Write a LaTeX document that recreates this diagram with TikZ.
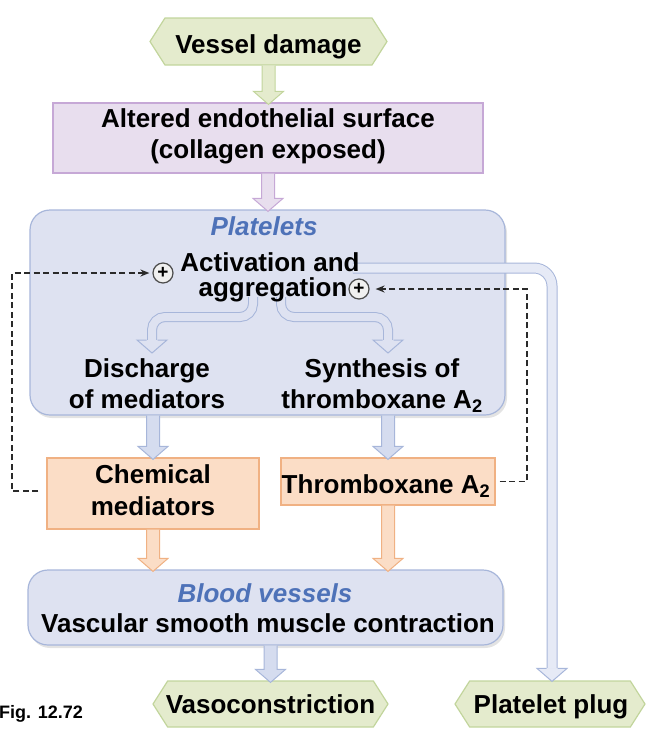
\documentclass[tikz,border=0pt]{standalone}
\usepackage{fontspec}
\setmainfont{Liberation Sans}
\usetikzlibrary{shapes.symbols,calc,arrows.meta,shadows}
\definecolor{grfill}{HTML}{E4EBCD}
\definecolor{grdraw}{HTML}{C2D59C}
\definecolor{pufill}{HTML}{E8DEEE}
\definecolor{pudraw}{HTML}{C6A8D6}
\definecolor{blbox}{HTML}{DEE2F1}
\definecolor{bldraw}{HTML}{A7B6DA}
\definecolor{blfill}{HTML}{D5DCEF}
\definecolor{bllight}{HTML}{E6EAF6}
\definecolor{bltext}{HTML}{4E72B8}
\definecolor{orfill}{HTML}{FBDDC6}
\definecolor{ordraw}{HTML}{F0B183}
\definecolor{dshc}{HTML}{2A2A2A}
\pgfdeclarelayer{bg}
\pgfdeclarelayer{mid}
\pgfsetlayers{bg,mid,main}
\newcommand\myarrow[4]{%
  \path #3 coordinate (ATop);
  \path ($#4+(0,2)$) coordinate (ATip);
  \fill[#1] ($(ATop)+(-6.5,0)$) -- ($(ATip)+(-6.5,-13)$) -- ($(ATip)+(-15,-13)$) -- (ATip) -- ($(ATip)+(15,-13)$) -- ($(ATip)+(6.5,-13)$) -- ($(ATop)+(6.5,0)$) -- cycle;
  \draw[#2,line width=1pt,line join=miter] ($(ATop)+(-6.5,0)$) -- ($(ATip)+(-6.5,-13)$) -- ($(ATip)+(-15,-13)$) -- (ATip) -- ($(ATip)+(15,-13)$) -- ($(ATip)+(6.5,-13)$) -- ($(ATop)+(6.5,0)$);
}
\newcommand\myhead[3]{%
  \path #3 coordinate (HTip);
  \fill[#1] ($(HTip)+(-15,-13)$) -- (HTip) -- ($(HTip)+(15,-13)$) -- cycle;
  \draw[#2,line width=1pt,line join=miter] ($(HTip)+(-5.5,-13)$) -- ($(HTip)+(-15,-13)$) -- (HTip) -- ($(HTip)+(15,-13)$) -- ($(HTip)+(5.5,-13)$);
}
\tikzset{
  txt/.style={font=\bfseries\fontsize{26}{30}\selectfont, text=black, inner sep=0pt},
  bluetxt/.style={font=\bfseries\itshape\fontsize{26}{30}\selectfont, text=bltext, inner sep=0pt},
  figtxt/.style={font=\bfseries\fontsize{18}{20}\selectfont, text=black, inner sep=0pt},
  hexv/.style={shape=signal, signal to=east and west, signal from=nowhere, signal pointer angle=115,
    fill=grfill, draw=grdraw, line width=1.2pt, inner sep=0pt},
  purpbox/.style={rectangle, fill=pufill, draw=pudraw, line width=1.2pt, inner sep=0pt},
  bluebox/.style={rectangle, rounded corners=20pt, fill=blbox, draw=bldraw, line width=1.2pt, inner sep=0pt,
    drop shadow={shadow xshift=2pt, shadow yshift=-3pt, opacity=0.22}},
  orbox/.style={rectangle, fill=orfill, draw=ordraw, line width=1.2pt, inner sep=0pt},
  plusc/.style={circle, fill=gray!12, draw=gray!60!black, line width=1.2pt, minimum size=20pt, inner sep=0pt,
    font=\bfseries\fontsize{19}{19}\selectfont},
  bandpp/.style={draw=bldraw, double=bllight, line width=1pt, double distance=9pt, rounded corners=18pt},
  bandc/.style={draw=bldraw, double=blbox, line width=1pt, double distance=8pt, rounded corners=13pt},
  dsh/.style={draw=dshc, line width=1.7pt, dash pattern=on 6pt off 3.5pt, -{Stealth[length=9pt,width=7pt]}},
}
\begin{document}
\begin{tikzpicture}[x=1pt,y=-1pt]
\useasboundingbox (0,0) rectangle (646,740);
\begin{pgfonlayer}{bg}
\node[hexv, minimum width=237pt, minimum height=47pt] (vd) at (268.5,41.5) {};
\node[purpbox, minimum width=430pt, minimum height=70pt] (alt) at (268,138) {};
\node[bluebox, minimum width=475pt, minimum height=205pt] (plt) at (267.5,312.5) {};
\node[orbox, minimum width=212pt, minimum height=71pt] (chem) at (153,493.5) {};
\node[orbox, minimum width=214pt, minimum height=47pt] (thx) at (388,481.5) {};
\node[bluebox, minimum width=475pt, minimum height=75pt] (bv) at (265.5,607.5) {};
\node[hexv, minimum width=235pt, minimum height=46pt] (vc) at (270.5,704) {};
\node[hexv, minimum width=190pt, minimum height=46pt] (pp) at (550,704) {};
\end{pgfonlayer}
% texts
\node[txt, anchor=base] (vdt) at (268.5,53) {Vessel damage};
\node[txt, anchor=base] (alt1) at (268,127) {Altered endothelial surface};
\node[txt, anchor=base] (alt2) at (268,158) {(collagen exposed)};
\node[bluetxt, anchor=base] (pltt) at (264,235) {Platelets};
\node[txt, anchor=base] (act1) at (270,271) {Activation and};
\node[txt, anchor=base] (act2) at (273,296) {aggregation};
\node[plusc] (p1) at (163,273) {+};
\node[plusc] (p2) at (359,289) {+};
\node[txt, anchor=base] (dis1) at (147,377) {Discharge};
\node[txt, anchor=base] (dis2) at (147,408) {of mediators};
\node[txt, anchor=base] (syn1) at (382,377) {Synthesis of};
\node[txt, anchor=base] (syn2) at (382,408) {thromboxane A\textsubscript{2}};
\node[txt, anchor=base] (chem1) at (153,483) {Chemical};
\node[txt, anchor=base] (chem2) at (153,515) {mediators};
\node[txt, anchor=base] (thxt) at (386,493) {Thromboxane A\textsubscript{2}};
\node[bluetxt, anchor=base] (bvt) at (265,602) {Blood vessels};
\node[txt, anchor=base] (bv2) at (268,632) {Vascular smooth muscle contraction};
\node[txt, anchor=base] (vct) at (270.5,713) {Vasoconstriction};
\node[txt, anchor=base] (ppt) at (551,713) {Platelet plug};
\node[figtxt, anchor=base east] (fig) at (83,718) {Fig. 12.72};
% connectors
\begin{pgfonlayer}{mid}
\myarrow{grfill}{grdraw}{(vd.south)}{(vd.south |- alt.north)}
\myarrow{pufill}{pudraw}{(alt.south)}{(alt.south |- plt.north)}
\myarrow{blfill}{bldraw}{(chem.north |- plt.south)}{(chem.north)}
\myarrow{blfill}{bldraw}{(thx.north |- plt.south)}{(thx.north)}
\myarrow{orfill}{ordraw}{(chem.south)}{(chem.south |- bv.north)}
\myarrow{orfill}{ordraw}{(thx.south)}{(thx.south |- bv.north)}
\myarrow{blfill}{bldraw}{(vc.north |- bv.south)}{(vc.north)}
% platelet plug band
\coordinate (ppS) at ($(act1.base east)+(-7,-3)$);
\draw[bandpp] (ppS) -| ($(pp.north)+(2,-12)$);
\myhead{bllight}{bldraw}{($(pp.north)+(2,1)$)}
% curved arrows
\coordinate (aggL) at ($(act2.base)+(-20,1)$);
\coordinate (aggR) at ($(act2.base)+(8,1)$);
\coordinate (tipL) at ($(dis1.base)+(5,-24)$);
\coordinate (tipR) at ($(syn1.base)+(6,-24)$);
\draw[bandc] (aggL) |- ($(tipL)+(0,-36)$) -- ($(tipL)+(0,-12.5)$);
\draw[bandc] (aggR) |- ($(tipR)+(0,-36)$) -- ($(tipR)+(0,-12.5)$);
\myhead{blbox}{bldraw}{(tipL)}
\myhead{blbox}{bldraw}{(tipR)}
% dashed feedback
\coordinate (dL) at ($(chem.west)+(-8,-2.5)$);
\coordinate (dLc) at (12,273);
\draw[dsh, shorten >=3pt] (dL) -| (dLc) -- (p1);
\coordinate (dR) at ($(thx.east)+(4,0)$);
\coordinate (dRc) at (527,289);
\draw[dsh, shorten >=6pt] (dR) -| (dRc) -- (p2);
\end{pgfonlayer}
\end{tikzpicture}
\end{document}
